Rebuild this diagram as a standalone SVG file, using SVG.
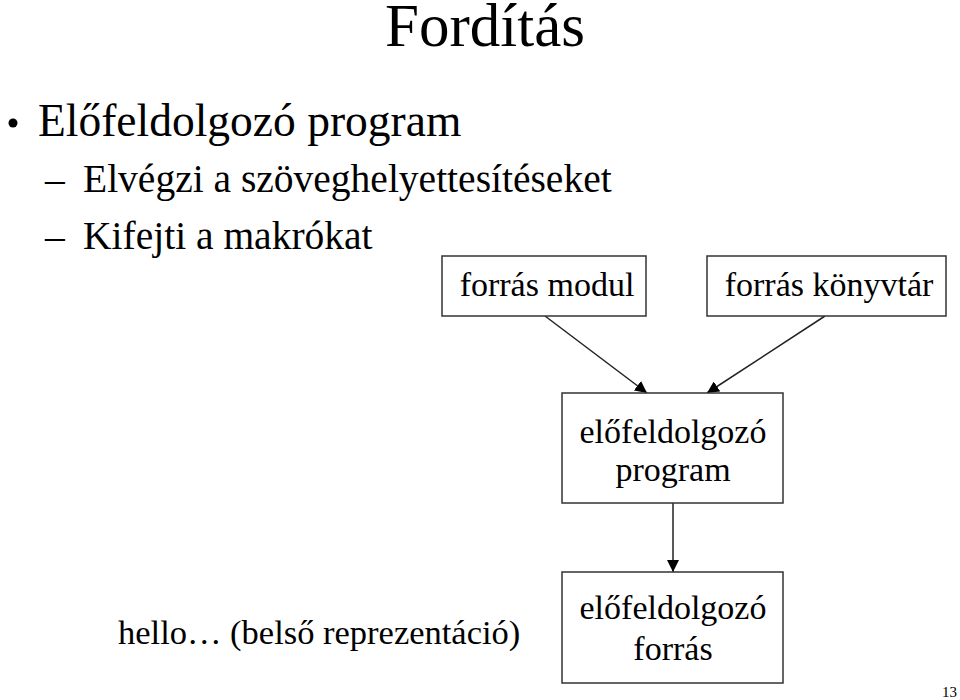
<svg xmlns="http://www.w3.org/2000/svg" width="960" height="700" viewBox="0 0 960 700">
<style>
text{font-family:"Liberation Serif","Times New Roman",serif;fill:#000}
.box{fill:#fff;stroke:#333;stroke-width:1.5}
.lbl{font-size:34px;text-anchor:middle}
.conn{stroke:#222;stroke-width:1.5;fill:none}
.sub{font-size:39.5px}
</style>
<defs>
<marker id="arr" viewBox="0 0 10 10" refX="10" refY="5" markerWidth="12" markerHeight="12" markerUnits="userSpaceOnUse" orient="auto">
<path d="M0,0 L10,5 L0,10 z" fill="#000"/>
</marker>
</defs>
<rect width="960" height="700" fill="#fff"/>
<text x="485" y="46" font-size="61" text-anchor="middle">Fordítás</text>
<circle cx="13" cy="123" r="4.5" fill="#000"/>
<text x="38" y="136" font-size="45.5">Előfeldolgozó program</text>
<text class="sub" x="45" y="192">–</text>
<text class="sub" x="83" y="192">Elvégzi a szöveghelyettesítéseket</text>
<text class="sub" x="45" y="249">–</text>
<text class="sub" x="83" y="249">Kifejti a makrókat</text>
<g id="connectors">
<line class="conn" x1="545" y1="316" x2="647" y2="393" marker-end="url(#arr)"/>
<line class="conn" x1="825" y1="316" x2="707" y2="393" marker-end="url(#arr)"/>
<line class="conn" x1="673" y1="503" x2="673" y2="572" marker-end="url(#arr)"/>
</g>
<g id="forras-modul">
<rect class="box" x="442" y="256" width="204" height="60"/>
<text class="lbl" x="547" y="296">forrás modul</text>
</g>
<g id="forras-konyvtar">
<rect class="box" x="707" y="256" width="239" height="60"/>
<text class="lbl" x="829" y="296">forrás könyvtár</text>
</g>
<g id="elofeldolgozo-program">
<rect class="box" x="562" y="393" width="221" height="110"/>
<text class="lbl" x="673" y="443">előfeldolgozó</text>
<text class="lbl" x="673" y="481">program</text>
</g>
<g id="elofeldolgozo-forras">
<rect class="box" x="562" y="572" width="221" height="111"/>
<text class="lbl" x="673" y="619">előfeldolgozó</text>
<text class="lbl" x="673" y="660">forrás</text>
</g>
<text x="118" y="644" font-size="34.5">hello… (belső reprezentáció)</text>
<text x="942" y="697" font-size="15">13</text>
</svg>
